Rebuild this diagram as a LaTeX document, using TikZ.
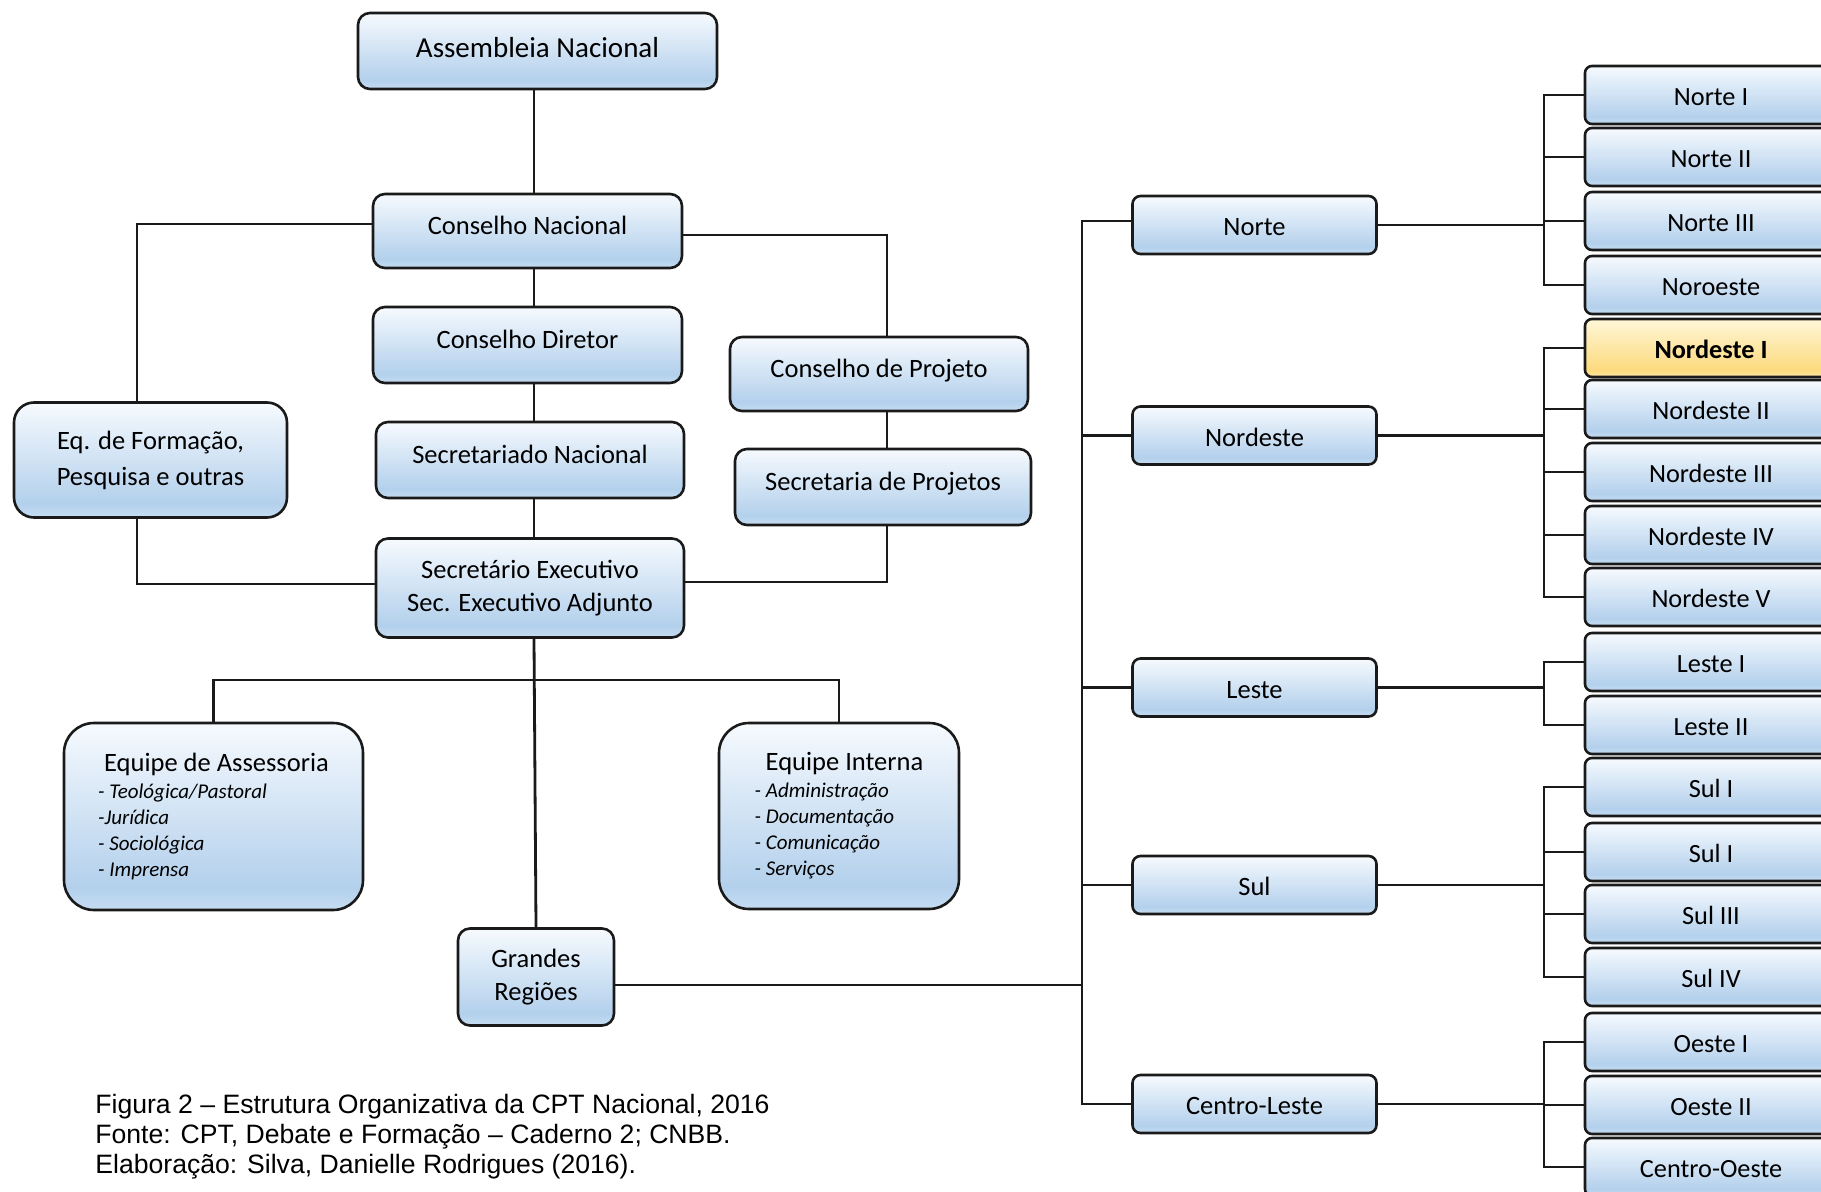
\documentclass[tikz,border=0pt]{standalone}
\usepackage{fontspec}
\setmainfont{Carlito}
\newfontfamily\capfont{Liberation Sans}
\usetikzlibrary{calc}
\definecolor{boxtop}{HTML}{F6FAFE}
\definecolor{boxmid}{HTML}{B3D0EC}
\definecolor{boxlow}{HTML}{C6DDF2}
\definecolor{goldtop}{HTML}{FFF7D8}
\definecolor{goldmid}{HTML}{FCDA7E}
\definecolor{goldlow}{HTML}{FDE6A4}
\definecolor{edge}{HTML}{1A1A1A}
\pgfdeclareverticalshading{bluefill}{100bp}{color(0bp)=(boxlow); color(25bp)=(boxlow); color(31bp)=(boxmid); color(75bp)=(boxtop); color(100bp)=(boxtop)}
\pgfdeclareverticalshading{goldfill}{100bp}{color(0bp)=(goldlow); color(25bp)=(goldlow); color(31bp)=(goldmid); color(75bp)=(goldtop); color(100bp)=(goldtop)}
\newcommand{\itm}[1]{{\itshape\fontsize{10.5}{13}\selectfont #1}}
\tikzset{
  orgbox/.style={draw=edge, line width=1.3pt, rounded corners=6pt, shading=bluefill,
    inner sep=0pt, align=center, font=\fontsize{13.25}{16.5}\selectfont},
  raised/.style={text height=9.1pt, text depth=5.2pt},
  teambox/.style={orgbox, rounded corners=15pt, align=left, font=\fontsize{13.25}{13}\selectfont},
  regbox/.style={orgbox, minimum width=122pt, minimum height=29pt, rounded corners=4pt,
    text height=10.6pt, text depth=0pt},
  leafbox/.style={regbox, minimum width=126pt, rounded corners=3.5pt, font=\fontsize{13.15}{16}\selectfont},
  leafgold/.style={leafbox, shading=goldfill, font=\bfseries\fontsize{13.15}{16}\selectfont},
  link/.style={draw=edge, line width=1.4pt, line cap=rect},
  captxt/.style={inner sep=0pt, anchor=base west, font=\capfont\fontsize{13.3}{16}\selectfont}
}
\begin{document}
\begin{tikzpicture}[x=0.5pt, y=-0.5pt]
\useasboundingbox (0,0) rectangle (1821,1192);
\clip (0,0) rectangle (1821,1192);
% national structure
\node[orgbox, minimum width=179.5pt, minimum height=38pt, font=\fontsize{14.5}{17}\selectfont,
  text height=10pt, text depth=3pt] (an) at (537.5,51) {Assembleia Nacional};
\node[orgbox, raised, minimum width=154.5pt, minimum height=37pt] (cn) at (527.5,231) {Conselho Nacional};
\node[orgbox, raised, minimum width=154.5pt, minimum height=38pt] (cd) at (527.5,345) {Conselho Diretor};
\node[orgbox, raised, minimum width=154pt, minimum height=38pt] (sn) at (530,460) {Secretariado Nacional};
\node[orgbox, minimum width=154pt, minimum height=49.5pt] (se) at (530,588) {Secretário Executivo\\Sec. Executivo Adjunto};
\node[orgbox, minimum width=149pt, minimum height=37pt, text height=9.1pt, text depth=5.7pt] (cp) at (879,374) {Conselho de Projeto};
\node[orgbox, minimum width=148pt, minimum height=38pt, text height=9.1pt, text depth=5.7pt] (sp) at (883,487) {Secretaria de Projetos};
\node[orgbox, minimum width=136.5pt, minimum height=57.5pt, rounded corners=10pt, font=\fontsize{13.25}{18}\selectfont] (ef) at (150.5,460) {Eq. de Formação,\\Pesquisa e outras};
\node[teambox, minimum width=149.5pt, minimum height=93.5pt] (ea) at (213.5,816.5)
  {\hspace*{3pt}Equipe de Assessoria\\[0.5pt]\itm{- Teológica/Pastoral}\\\itm{-Jurídica}\\\itm{- Sociológica}\\\itm{- Imprensa}};
\node[teambox, minimum width=120pt, minimum height=93pt] (ei) at (839,816)
  {\hspace*{5.5pt}Equipe Interna\\[0.5pt]\itm{- Administração}\\\itm{- Documentação}\\\itm{- Comunicação}\\\itm{- Serviços}};
\node[orgbox, minimum width=78pt, minimum height=48.5pt] (gr) at (536,977) {Grandes\\Regiões};

% great regions
\foreach \name/\txt/\y in {no/Norte/225, ne/Nordeste/435.5, le/Leste/687.5, su/Sul/885, cl/Centro-Leste/1104}
  \node[regbox] (\name) at (1254.5,\y) {\txt};

% regionals
\foreach \name/\txt/\y in {n1/Norte I/95, n2/Norte II/157, n3/Norte III/221, n4/Noroeste/285,
    ne2/Nordeste II/409, ne3/Nordeste III/472, ne4/Nordeste IV/535, ne5/Nordeste V/597,
    le1/Leste I/662, le2/Leste II/725, su1/Sul I/787, su2/Sul I/852, su3/Sul III/914, su4/Sul IV/977,
    oe1/Oeste I/1042, oe2/Oeste II/1105, co/Centro-Oeste/1167}
  \node[leafbox] (\name) at (1711,\y) {\txt};
\node[leafgold] (ne1) at (1711,348) {Nordeste I};

% connectors
\coordinate (spine) at (534,0);
\coordinate (lrail) at (137,0);
\coordinate (rrail) at (887,0);
\coordinate (fork) at (534,680);
\coordinate (busL) at (1082,0);
\coordinate (busR) at (1544,0);

\draw[link] (an.south -| spine) -- (cn.north -| spine);
\foreach \a/\b in {cn/cd, cd/sn, sn/se}
  \draw[link] (\a.south -| spine) -- (\b.north -| spine);
\draw[link] (se.south -| spine) -- (gr.north);
\draw[link] (ea.north) |- (fork) -| (ei.north);
\draw[link] ($(cn.west)+(0,-7)$) -| (ef.north -| lrail);
\draw[link] (ef.south -| lrail) |- ($(se.west)+(0,-4)$);
\draw[link] ($(cn.east)+(0,4)$) -| (cp.north -| rrail);
\draw[link] (cp.south -| rrail) -- (sp.north -| rrail);
\draw[link] (sp.south -| rrail) |- ($(se.east)+(0,-6)$);

\draw[link] ($(no.west -| busL)+(0,-4)$) -- (cl.west -| busL);
\draw[link] ($(no.west)+(0,-4)$) -- ($(no.west -| busL)+(0,-4)$);
\foreach \n in {ne,le,su,cl}
  \draw[link] (\n.west) -- (\n.west -| busL);
\draw[link] ($(gr.east)+(0,8)$) -- ($(gr.east -| busL)+(0,8)$);

\foreach \m/\first/\last in {no/n1/n4, ne/ne1/ne5, le/le1/le2, su/su1/su4, cl/oe1/co} {
  \draw[link] (\m.east) -- (\m.east -| busR);
  \draw[link] (\first.west -| busR) -- (\last.west -| busR);
}
\foreach \n in {n1,n2,n3,n4,ne1,ne2,ne3,ne4,ne5,le1,le2,su1,su2,su3,su4,oe1,oe2,co}
  \draw[link] (\n.west) -- (\n.west -| busR);

% caption
\node[captxt] (cap1) at (95,1113) {Figura 2 – Estrutura Organizativa da CPT Nacional, 2016};
\node[captxt] (cap2) at (95,1143) {Fonte: CPT, Debate e Formação – Caderno 2; CNBB.};
\node[captxt] (cap3) at (95,1173) {Elaboração: Silva, Danielle Rodrigues (2016).};
\end{tikzpicture}
\end{document}
